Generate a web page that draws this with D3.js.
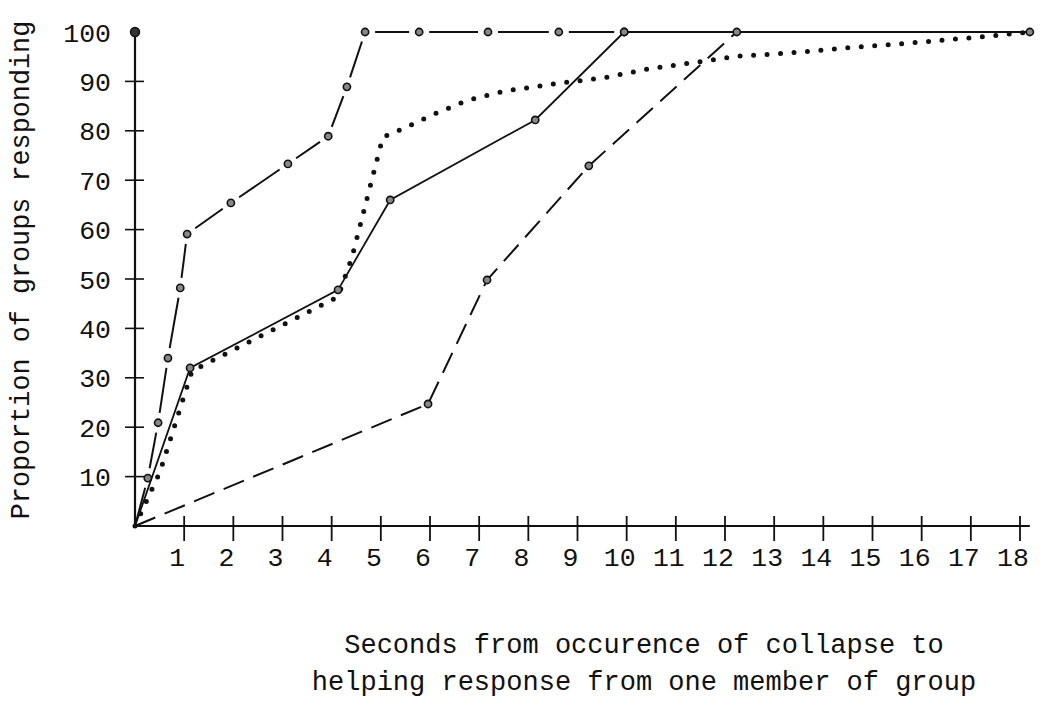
<!DOCTYPE html>
<html><head><meta charset="utf-8">
<script src="https://cdn.jsdelivr.net/npm/d3@7"></script>
<style>
body{margin:0;background:#fff}
text{font-family:"Courier New","Liberation Mono",monospace;fill:#111}
</style>
</head><body>
<svg id="chart" width="1043" height="707"></svg>
<script>
// ---- data ----
const xTickValues = [1,2,3,4,5,6,7,8,9,10,11,12,13,14,15,16,17,18];
const xTickLabels = ["1","2","3","4","5","6","7","8","9","10","11","12","13","14","15","16","17","18"];
const yTickValues = [10,20,30,40,50,60,70,80,90];
const yLabelValues = [10,20,30,40,50,60,70,80,90,100];
const yTickLabels = ["10","20","30","40","50","60","70","80","90","100"];
const xTitleLines = ["Seconds from occurence of collapse to","helping response from one member of group"];
const yTitle = "Proportion of groups responding";

// Series A: long dash with markers (fastest)
const aTime  = [0, 0.26, 0.47, 0.67, 0.92, 1.06, 1.95, 3.11, 3.93, 4.31, 4.68, 5.78, 7.18, 8.62, 9.95];
const aValue = [0, 9.7, 20.9, 34.0, 48.2, 59.1, 65.4, 73.3, 78.9, 88.9, 100, 100, 100, 100, 100];
// Series B: solid line with markers
const bTime  = [0, 1.12, 4.13, 5.19, 8.14, 9.95, 18.2];
const bValue = [0, 32.0, 47.8, 66.0, 82.2, 100, 100];
// Series C: dashed line with markers (slowest)
const cTime  = [0, 5.96, 7.16, 9.23, 12.24, 18.2];
const cValue = [0, 24.7, 49.8, 72.9, 100, 100];
// Series D: dotted line
const dTime  = [0, 0.51, 1.16, 4.13, 4.41, 5.04, 5.49, 6.04, 6.77, 7.55, 8.68, 9.52, 10.43, 11.57, 12.24, 13.26, 14.48, 15.58, 16.49, 17.21, 18.2];
const dValue = [0, 11.0, 31.4, 46.4, 54.3, 78.7, 80.6, 83.2, 86.2, 88.1, 89.7, 90.7, 92.5, 94.1, 95.1, 95.7, 96.8, 97.6, 98.4, 99.0, 100];

// ---- layout ----
const svg = d3.select("#chart");
const x = d3.scaleLinear().domain([0, 18]).range([135, 1020]);
const y = d3.scaleLinear().domain([0, 100]).range([526, 32]);
const ink = "#111";
const x0 = x(0), y0 = y(0);
const xEnd = d3.max(dTime);

const zip = (ts, vs) => ts.map((t, i) => ({t, v: vs[i]}));
const A = zip(aTime, aValue), B = zip(bTime, bValue), C = zip(cTime, cValue), D = zip(dTime, dValue);
const line = d3.line().x(d => x(d.t)).y(d => y(d.v));

// axes
const ax = svg.append("g");
ax.append("line").attr("x1", x0).attr("x2", x0).attr("y1", y0).attr("y2", y(100))
  .attr("stroke", ink).attr("stroke-width", 2.2);
ax.append("line").attr("x1", x0).attr("x2", x(xEnd)).attr("y1", y0).attr("y2", y0)
  .attr("stroke", ink).attr("stroke-width", 2.2);
ax.append("circle").attr("cx", x0).attr("cy", y(100)).attr("r", 4.5).attr("fill", "#333").attr("stroke", ink).attr("stroke-width", 1.5);
ax.selectAll(".yt").data(yTickValues).join("line")
  .attr("x1", x0 - 10).attr("x2", x0 + 9).attr("y1", d => y(d)).attr("y2", d => y(d))
  .attr("stroke", ink).attr("stroke-width", 1.6);
ax.selectAll(".xt").data(xTickValues).join("line")
  .attr("x1", d => x(d)).attr("x2", d => x(d)).attr("y1", y0 - 10).attr("y2", y0 + 15)
  .attr("stroke", ink).attr("stroke-width", 1.8);
ax.selectAll(".yl").data(yLabelValues).join("text")
  .attr("x", x0 - 24).attr("y", d => y(d)).attr("dy", "0.36em")
  .attr("text-anchor", "end").attr("font-size", 26.5)
  .text((d, i) => yTickLabels[i]);
ax.selectAll(".xl").data(xTickValues).join("text")
  .attr("x", d => x(d) - 7).attr("y", y0 + 40)
  .attr("text-anchor", "middle").attr("font-size", 26.5)
  .text((d, i) => xTickLabels[i]);

// titles
svg.append("text").attr("transform", "translate(29,270) rotate(-90)")
  .attr("text-anchor", "middle").attr("font-size", 26.8).text(yTitle);
svg.selectAll(".xtitle").data(xTitleLines).join("text")
  .attr("x", 644).attr("y", (d, i) => 653 + i * 37)
  .attr("text-anchor", "middle").attr("font-size", 27).text(d => d);

// series C: dashed
svg.append("path").attr("d", line(C)).attr("fill", "none").attr("stroke", ink)
  .attr("stroke-width", 2).attr("stroke-dasharray", "22,10");
// series B: solid
svg.append("path").attr("d", line(B)).attr("fill", "none").attr("stroke", ink).attr("stroke-width", 1.8);
// series D: dotted
svg.append("path").attr("d", line(D)).attr("fill", "none").attr("stroke", ink)
  .attr("stroke-width", 5).attr("stroke-linecap", "round").attr("stroke-dasharray", "0,13.5");
// series A: segments with gaps around markers
const gap = 10;
const segs = d3.pairs(A).map(([p, q]) => {
  const x1 = x(p.t), y1 = y(p.v), x2 = x(q.t), y2 = y(q.v);
  const L = Math.hypot(x2 - x1, y2 - y1), ux = (x2 - x1) / L, uy = (y2 - y1) / L;
  const g1 = p.t === 0 ? 0 : Math.min(gap, L / 3);
  const g2 = Math.min(gap, L / 3);
  return {x1: x1 + ux * g1, y1: y1 + uy * g1, x2: x2 - ux * g2, y2: y2 - uy * g2};
});
svg.selectAll(".aseg").data(segs).join("line")
  .attr("x1", d => d.x1).attr("y1", d => d.y1).attr("x2", d => d.x2).attr("y2", d => d.y2)
  .attr("stroke", ink).attr("stroke-width", 2);

// markers
function markers(data, cls) {
  svg.selectAll("." + cls).data(data).join("circle").attr("class", cls)
    .attr("cx", d => x(d.t)).attr("cy", d => y(d.v)).attr("r", 3.6)
    .attr("fill", "#888").attr("stroke", ink).attr("stroke-width", 1.6);
}
markers(A.slice(1), "ma");
markers(B.slice(1, -1), "mb");
markers(C.slice(1, -1), "mc");
markers(D.slice(-1), "md");
</script>
</body></html>
